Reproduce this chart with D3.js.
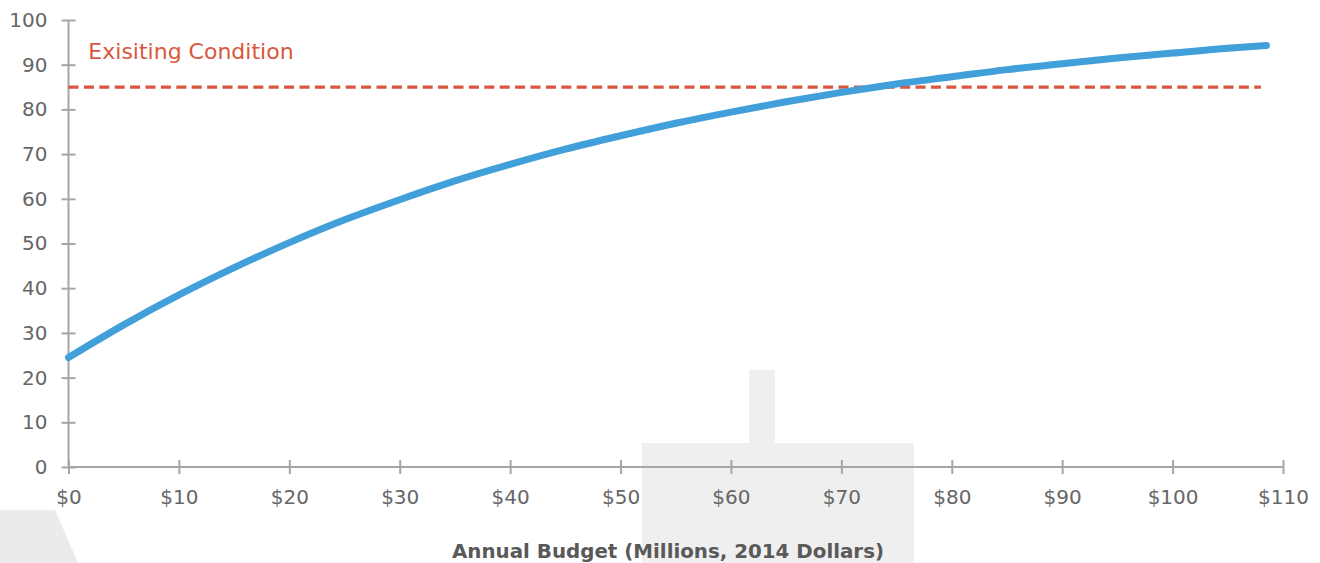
<!DOCTYPE html>
<html>
<head>
<meta charset="utf-8">
<script src="https://cdn.jsdelivr.net/npm/d3@7"></script>
<style>
  body { margin: 0; background: #fff; }
  svg { display: block; }
</style>
</head>
<body>
<div id="chart"></div>
<script>
// budget in $ millions -> condition score
var budget = [0, 5, 10, 15, 20, 25, 30, 35, 40, 45, 50, 55, 60, 65, 70, 75, 80, 85, 90, 95, 100, 105, 108.5];
var condition = [24.5, 31.8, 38.5, 44.6, 50.2, 55.3, 59.8, 64, 67.7, 71.1, 74.1, 76.9, 79.4, 81.7, 83.8, 85.7, 87.3, 88.9, 90.2, 91.5, 92.6, 93.7, 94.3];
var existingCondition = 85;
var existingRange = [0, 108];
var xTicks = [0, 10, 20, 30, 40, 50, 60, 70, 80, 90, 100, 110];
var yTicks = [0, 10, 20, 30, 40, 50, 60, 70, 80, 90, 100];

var width = 1320, height = 563;
var margin = { top: 20, right: 37, bottom: 96, left: 68.5 };

var svg = d3.select("#chart").append("svg")
    .attr("width", width)
    .attr("height", height);

// faint grey shapes in the background of the slide
var bg = svg.append("g").attr("fill", "#ededed");
bg.append("path").attr("d", "M0,510 L55,510 L78,563 L0,563 Z").attr("fill", "#ebebeb");
bg.append("rect").attr("x", 642).attr("y", 443).attr("width", 272).attr("height", 120).attr("fill", "#efefef");
bg.append("rect").attr("x", 749).attr("y", 370).attr("width", 26).attr("height", 73).attr("fill", "#efefef");

var x = d3.scaleLinear().domain([0, 110]).range([margin.left, width - margin.right]);
var y = d3.scaleLinear().domain([0, 100]).range([height - margin.bottom, margin.top]);

var axisColor = "#a6a6a6";
var labelFont = "'DejaVu Sans', sans-serif";

// y axis
var yAxis = svg.append("g")
    .attr("transform", "translate(" + x(0) + ",0)")
    .call(d3.axisLeft(y).tickValues(yTicks).tickSize(7).tickPadding(14));
yAxis.selectAll(".tick line").clone().attr("x2", 7);

// x axis
var xAxis = svg.append("g")
    .attr("transform", "translate(0," + y(0) + ")")
    .call(d3.axisBottom(x).tickValues(xTicks).tickSize(7).tickPadding(16)
        .tickFormat(function(d) { return "$" + d; }));
xAxis.selectAll(".tick line").clone().attr("y2", -7);

[yAxis, xAxis].forEach(function(a) {
    a.select(".domain").attr("stroke", axisColor).attr("stroke-width", 2);
    a.selectAll(".tick line").attr("stroke", axisColor).attr("stroke-width", 2);
    a.selectAll(".tick text")
        .attr("fill", "#666")
        .style("font-family", labelFont)
        .style("font-size", "20px");
});
yAxis.select(".domain").attr("d", "M0," + y(0) + "V" + y(100));
xAxis.select(".domain").attr("d", "M" + x(0) + ",0H" + x(110));

// existing condition line
svg.append("line")
    .attr("x1", x(existingRange[0]))
    .attr("x2", x(existingRange[1]))
    .attr("y1", y(existingCondition))
    .attr("y2", y(existingCondition))
    .attr("stroke", "#d9573c")
    .attr("stroke-width", 3.2)
    .attr("stroke-dasharray", "10,5.4");

svg.append("text")
    .attr("x", x(1.8))
    .attr("y", y(existingCondition) - 28)
    .attr("fill", "#d9573c")
    .style("font-family", labelFont)
    .style("font-size", "22px")
    .text("Exisiting Condition");

// budget curve
var line = d3.line()
    .x(function(d, i) { return x(budget[i]); })
    .y(function(d) { return y(d); })
    .curve(d3.curveMonotoneX);

svg.append("path")
    .datum(condition)
    .attr("d", line)
    .attr("fill", "none")
    .attr("stroke", "#419fd9")
    .attr("stroke-width", 7)
    .attr("stroke-linecap", "round");

// x axis title
svg.append("text")
    .attr("x", 668)
    .attr("y", 558)
    .attr("text-anchor", "middle")
    .attr("fill", "#595959")
    .attr("textLength", 432)
    .attr("lengthAdjust", "spacingAndGlyphs")
    .style("font-family", labelFont)
    .style("font-weight", "bold")
    .style("font-size", "20px")
    .text("Annual Budget (Millions, 2014 Dollars)");
</script>
</body>
</html>
